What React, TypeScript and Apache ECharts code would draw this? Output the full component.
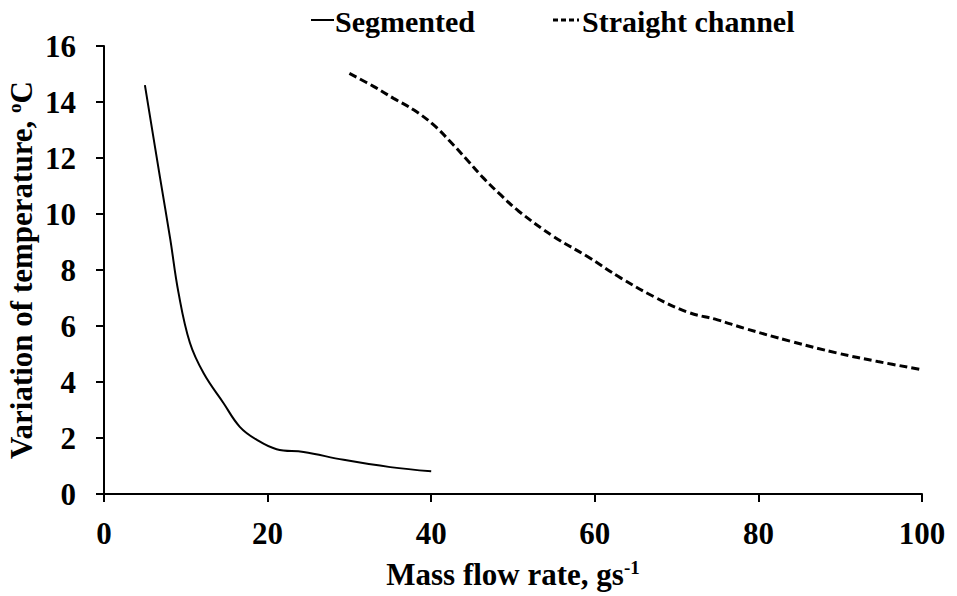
import React, { useEffect, useRef } from "react";
import * as echarts from "echarts";

const segmented: [number, number][] = [
  [5, 14.6], [6.85, 11.3], [8.1, 9.1], [9.1, 7.2], [10.5, 5.4], [12.2, 4.3],
  [14.6, 3.25], [16.6, 2.4], [18.65, 1.94], [21.1, 1.6], [24.4, 1.5],
  [29.3, 1.22], [35, 0.96], [40, 0.81],
];

const straight: [number, number][] = [
  [30, 15.02], [33, 14.55], [35.4, 14.13], [37.9, 13.71], [40.3, 13.18],
  [42.35, 12.58], [44.4, 11.93], [46.4, 11.28], [48.5, 10.68], [50.7, 10.1],
  [55, 9.19], [59.1, 8.48], [63.2, 7.71], [67.2, 7.05], [71.3, 6.5],
  [75, 6.22], [78.25, 5.92], [84, 5.45], [89.7, 5.03], [94.6, 4.73], [100, 4.44],
];

const seriesNames = ["Segmented", "Straight channel"];
const xTitle = "Mass flow rate, gs{sup|-1}";
const yTitle = "Variation of temperature, {sup|o}C";

const FONT = "'Liberation Serif', 'Times New Roman', serif";

export default function App() {
  const ref = useRef<HTMLDivElement>(null);
  useEffect(() => {
    if (!ref.current) return;
    const chart = echarts.init(ref.current, undefined, { renderer: "svg" });
    const axisText = { fontFamily: FONT, fontWeight: "bold" as const, fontSize: 31, color: "#000" };
    const sup = { fontFamily: FONT, fontWeight: "bold" as const, fontSize: 19, color: "#000", verticalAlign: "top" as const, padding: [0, 0, 14, 0] };
    chart.setOption({
      animation: false,
      backgroundColor: "#fff",
      grid: { left: 104, right: 35, top: 46, bottom: 102, containLabel: false, outerBoundsMode: "none" },
      graphic: [
        { type: "line", shape: { x1: 311, y1: 20, x2: 334, y2: 20 }, style: { stroke: "#000", lineWidth: 2 } },
        { type: "text", x: 335, y: 21, style: { text: seriesNames[0], font: `bold 30px ${FONT}`, fill: "#000", verticalAlign: "middle" } },
        { type: "line", shape: { x1: 553, y1: 20, x2: 579, y2: 20 }, style: { stroke: "#000", lineWidth: 3, lineDash: [5, 3] } },
        { type: "text", x: 582, y: 21, style: { text: seriesNames[1], font: `bold 30px ${FONT}`, fill: "#000", verticalAlign: "middle" } },
      ],
      xAxis: {
        type: "value",
        min: 0,
        max: 100,
        interval: 20,
        splitLine: { show: false },
        axisLine: { lineStyle: { color: "#000", width: 2 } },
        axisTick: { show: true, length: 8, lineStyle: { color: "#000", width: 2 } },
        axisLabel: { ...axisText, margin: 24 },
        name: xTitle,
        nameLocation: "middle",
        nameGap: 64,
        nameTextStyle: { ...axisText, rich: { sup } },
      },
      yAxis: {
        type: "value",
        min: 0,
        max: 16,
        interval: 2,
        splitLine: { show: false },
        axisLine: { show: true, lineStyle: { color: "#000", width: 2 } },
        axisTick: { show: true, length: 8, lineStyle: { color: "#000", width: 2 } },
        axisLabel: { ...axisText, margin: 28 },
        name: yTitle,
        nameLocation: "middle",
        nameGap: 66,
        nameMoveOverlap: false,
        nameRotate: 90,
        nameTextStyle: { ...axisText, rich: { sup } },
      },
      series: [
        {
          name: seriesNames[0],
          type: "line",
          data: segmented,
          smooth: 0.4,
          symbol: "none",
          lineStyle: { color: "#000", width: 2, type: "solid" },
          itemStyle: { color: "#000" },
        },
        {
          name: seriesNames[1],
          type: "line",
          data: straight,
          smooth: 0.4,
          symbol: "none",
          lineStyle: { color: "#000", width: 3, type: [8, 4] },
          itemStyle: { color: "#000" },
        },
      ],
    });
    return () => chart.dispose();
  }, []);
  return (
    <div
      ref={ref}
      style={{ position: "fixed", left: 0, top: 0, width: 957, height: 596, background: "#fff" }}
    />
  );
}
